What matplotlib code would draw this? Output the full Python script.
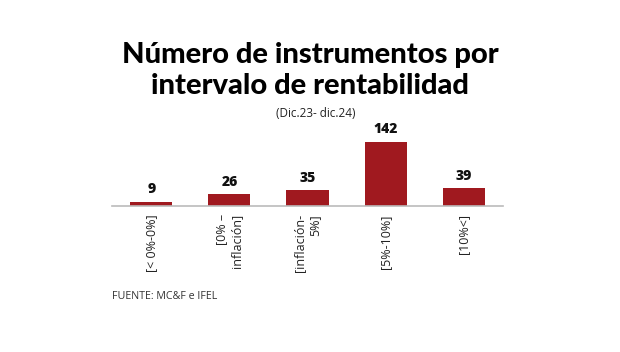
import matplotlib
matplotlib.use('Agg')
import matplotlib.pyplot as plt
import numpy as np

categories = ['[< 0%-0%]', '[0% –\ninflación]', '[inflación-\n5%]', '[5%-10%]', '[10%<]']
values = [9, 26, 35, 142, 39]

bar_color = '#a0191f'

fig = plt.figure(figsize=(6.2, 3.52), dpi=100)
ax = fig.add_axes([0.181, 0.415, 0.630, 0.244])

x = np.arange(len(categories))
bars = ax.bar(x, values, width=0.54, color=bar_color)

ax.set_xlim(-0.5, 4.5)
ax.set_ylim(0, 190)
ax.set_yticks([])
for s in ['top', 'right', 'left']:
    ax.spines[s].set_visible(False)
ax.spines['bottom'].set_color('#bbbbbb')
ax.spines['bottom'].set_linewidth(1.2)

ax.set_xticks(x)
ax.set_xticklabels(categories, rotation=90, va='top', ha='center',
                   multialignment='right', fontsize=9, color='#222222',
                   family='Open Sans')
ax.tick_params(axis='x', length=0, pad=6)

for rect, v in zip(bars, values):
    ax.annotate('{}'.format(v),
                xy=(rect.get_x() + rect.get_width() / 2, rect.get_height()),
                xytext=(0, 4), textcoords='offset points',
                ha='center', va='bottom', fontsize=10, fontweight='heavy',
                family='Open Sans', color='#111111')

fig.text(0.5, 0.80, 'Número de instrumentos por\nintervalo de rentabilidad',
         ha='center', va='center', fontsize=21, fontweight='black',
         family='Lato', linespacing=1.2, color='#000000')
fig.text(0.51, 0.678, '(Dic.23- dic.24)', ha='center', va='center',
         fontsize=8.5, family='Open Sans', color='#222222')
fig.text(0.181, 0.158, 'FUENTE: MC&F e IFEL', ha='left', va='center',
         fontsize=7.7, family='Open Sans', color='#333333')

fig.savefig('out.png', dpi=100)
